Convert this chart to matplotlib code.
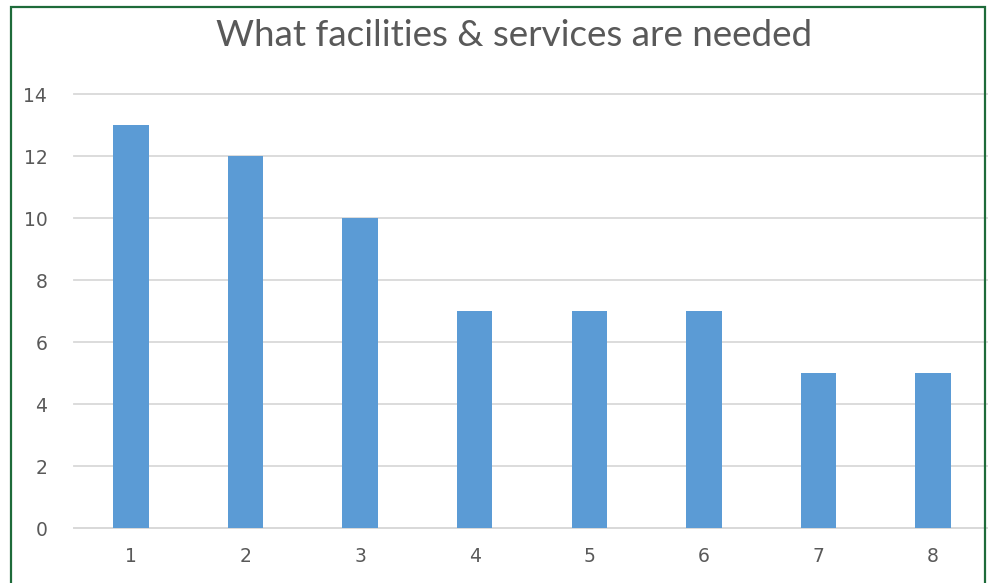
import matplotlib.pyplot as plt
from matplotlib.patches import Rectangle

categories = ["1", "2", "3", "4", "5", "6", "7", "8"]
counts = [13, 12, 10, 7, 7, 7, 5, 5]
yticks = [0, 2, 4, 6, 8, 10, 12, 14]

W, H = 988, 583
fig = plt.figure(figsize=(W / 100, H / 100), dpi=100)

ax = fig.add_axes([73.7 / W, 55 / H, 916.6 / W, 434 / H])
x = list(range(1, len(categories) + 1))
ax.bar(x, counts, width=0.31, color="#5b9bd5", zorder=3)
ax.set_xlim(0.5, len(categories) + 0.5)
ax.set_ylim(0, 14)
ax.set_yticks(yticks)
ax.set_xticks(x)
ax.set_xticklabels(categories)
ax.yaxis.grid(True, color="#d9d9d9", linewidth=1.3, zorder=0)
for gl in ax.get_ygridlines():
    gl.set_clip_on(False)
for s in ["top", "right", "left"]:
    ax.spines[s].set_visible(False)
ax.spines["bottom"].set_color("#d9d9d9")
ax.spines["bottom"].set_linewidth(1.3)
ax.tick_params(axis="both", length=0, labelsize=13.5, colors="#595959")
ax.tick_params(axis="x", pad=14)
ax.tick_params(axis="y", pad=19)

fig.text(514 / W, 1 - 35 / H, "What facilities & services are needed",
         ha="center", va="center", fontsize=26.5, color="#595959",
         family="Lato")

fig.patches.append(Rectangle((11 / W, -0.05), (985 - 11) / W, 1.05 - 7.5 / H,
                             transform=fig.transFigure, fill=False,
                             edgecolor="#1e6b3a", linewidth=1.6))

fig.savefig("out.png", dpi=100)
